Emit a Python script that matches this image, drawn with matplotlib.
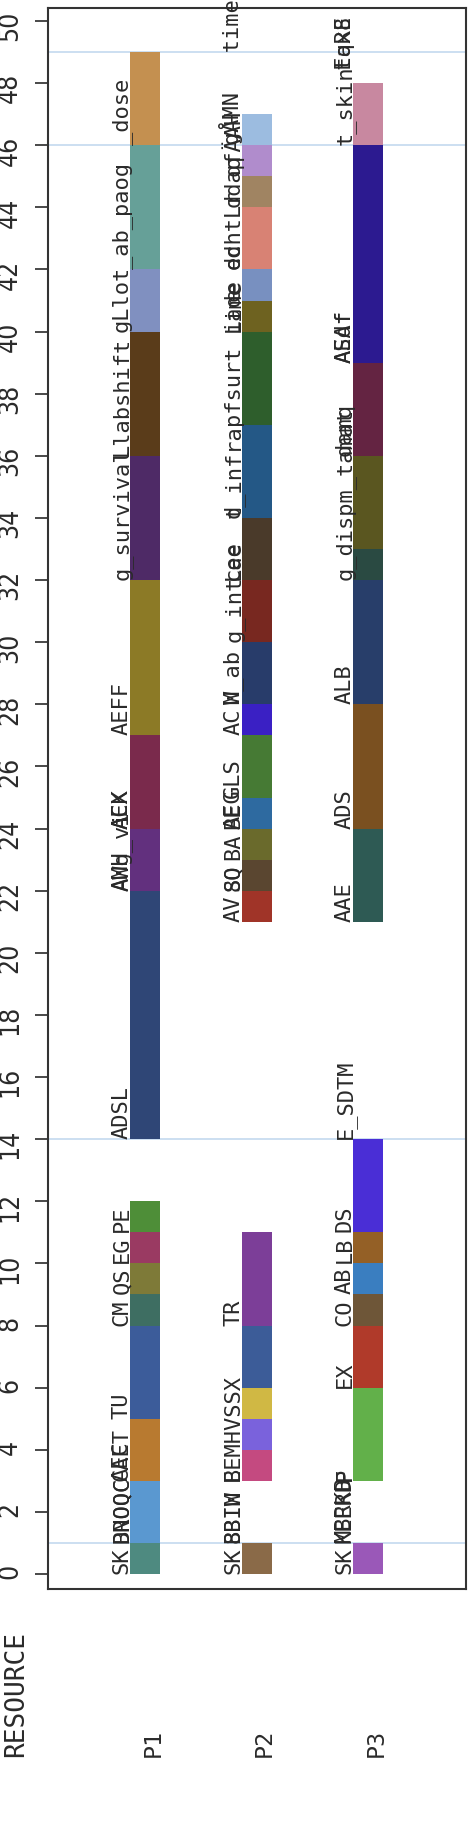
import matplotlib
matplotlib.use("Agg")
import matplotlib.pyplot as plt
import matplotlib.transforms as mtransforms

# resources (columns) and the tasks scheduled on each one
resources = ["P1", "P2", "P3"]

p1_start = [0, 1, 1, 3, 3, 5, 8, 9, 10, 11, 14, 22, 22, 24, 24, 27, 32, 36, 40, 42, 46]
p1_end = [1, 3, 1, 5, 3, 8, 9, 10, 11, 12, 22, 24, 22, 27, 24, 32, 36, 40, 42, 46, 49]
p1_task = ["SK", "BNOQC", "DROQC", "CAET", "AEC", "TU", "CM", "QS", "EG", "PE",
           "ADSL", "AMH", "AWg_vi", "AEX", "ACK", "AEFF", "g_survival", "Llabshift",
           "gLlot", "_ab_paog", "_dose"]
p1_color = ["#4e8a80", "#5a98d0", "none", "#b87a30", "none", "#3c5c9a", "#3e6e62",
            "#7e7a38", "#9a3a62", "#4e8e38", "#2f4676", "#62307e", "none", "#7a2a4c",
            "none", "#8c7a26", "#4e2a66", "#5a3c1a", "#8090c0", "#66a098", "#c49050"]

p2_start = [0, 1, 1, 3, 3, 4, 5, 6, 8, 21, 22, 22, 23, 24, 24, 25, 27, 28, 28, 30,
            32, 32, 34, 34, 37, 40, 40, 41, 42, 42, 44, 45, 46]
p2_end = [1, 1, 1, 4, 3, 5, 6, 8, 11, 22, 23, 22, 24, 25, 24, 27, 28, 30, 28, 32,
          34, 32, 37, 34, 40, 41, 40, 42, 44, 42, 45, 46, 47]
p2_task = ["SK", "8BIW", "BBIM", "BEMHVSSX", "E", "", "", "", "TR", "AV", "8Q", "SO",
           "BA", "BE", "AEG", "GLS", "AC", "W_ab", "M", "g_int", "Lae", "cee",
           "t_infra", "d", "pfsurt", "Lime", "iade", "e", "echtLr", "dd", "ddaq",
           "qfÄAH", "gÅMN   time"]
p2_color = ["#8a6a48", "none", "none", "#c44a80", "none", "#7a62dc", "#d0b844",
            "#3c5c98", "#7c3e98", "#a03428", "#5a4630", "none", "#6a6a2c", "#2e6aa0",
            "none", "#467a34", "#3a20c4", "#283c6a", "none", "#782820", "#4a3a2a",
            "none", "#245886", "none", "#2e5e2c", "#6e6220", "none", "#7890c0",
            "#d88274", "none", "#a08462", "#b08ccc", "#9cbce0"]

p3_start = [0, 1, 1, 3, 3, 6, 8, 9, 10, 11, 14, 21, 24, 28, 32, 33, 36, 39, 39, 46, 48, 48]
p3_end = [1, 1, 1, 6, 3, 8, 9, 10, 11, 14, 14, 24, 28, 32, 33, 36, 39, 46, 39, 48, 48, 48]
p3_task = ["SK", "KEERD", "MBRKB", "F", "P", "EX", "CO", "AB", "LB", "DS", "E_SDTM",
           "AAE", "ADS", "ALB", "g_dispm_tamat", "", "damq", "AEAf", "ASdf",
           "t_skin", " EqRE", " tax8"]
p3_color = ["#9a58b8", "none", "none", "#62b04a", "none", "#b03a2a", "#6e5638",
            "#3a7ec0", "#946026", "#4a2ed6", "none", "#2e5a54", "#7a5020", "#283e6a",
            "#2a4a42", "#5a5620", "#642442", "#2c1a90", "none", "#c888a0", "none", "none"]

starts = [p1_start, p2_start, p3_start]
ends = [p1_end, p2_end, p3_end]
tasks = [p1_task, p2_task, p3_task]
colors = [p1_color, p2_color, p3_color]

ref_lines = [1, 14, 46, 49]
y_ticks = list(range(0, 51, 2))

fig = plt.figure(figsize=(4.68, 18.36), dpi=100)
ax = fig.add_axes([48 / 468, 247 / 1836, 418 / 468, 1581 / 1836])

for v in ref_lines:
    ax.axhline(v, color="#c8dcf0", lw=1.3, zorder=1)

for i, name in enumerate(resources):
    x = i + 1
    for s, e, t, c in zip(starts[i], ends[i], tasks[i], colors[i]):
        if e > s:
            ax.bar(x, e - s, bottom=s, width=0.27, color=c, linewidth=0, zorder=2)
        ax.text(x - 0.157, s, t, rotation=90, rotation_mode="anchor",
                ha="left", va="baseline", fontsize=15.8,
                family="DejaVu Sans Mono", color="#2a2a2a", zorder=3)

ax.set_xlim(0.124, 3.881)
ax.set_ylim(-0.483, 50.419)
ax.set_xticks([])
ax.set_yticks(y_ticks)
ax.set_yticklabels([str(v) for v in y_ticks], fontsize=19, fontstretch="condensed",
                   color="#2a2a2a")
ax.tick_params(axis="y", length=9.4, width=1.2, pad=8.6, labelrotation=90,
               color="#2a2a2a")
for sp in ax.spines.values():
    sp.set_color("#333333")
    sp.set_linewidth(1.5)

# resource names under the chart
trans = mtransforms.blended_transform_factory(ax.transData, fig.transFigure)
for i, name in enumerate(resources):
    ax.text(i + 1 + 0.13, 1 - 1757 / 1836, name, transform=trans, rotation=90,
            rotation_mode="anchor", ha="left", va="baseline", fontsize=16.8,
            family="DejaVu Sans Mono", color="#2a2a2a")
fig.text(23 / 468, 1 - 1757 / 1836, "RESOURCE", rotation=90, rotation_mode="anchor",
         ha="left", va="baseline", fontsize=18.8, family="DejaVu Sans Mono",
         color="#2a2a2a")

fig.savefig("out.png", dpi=100)
